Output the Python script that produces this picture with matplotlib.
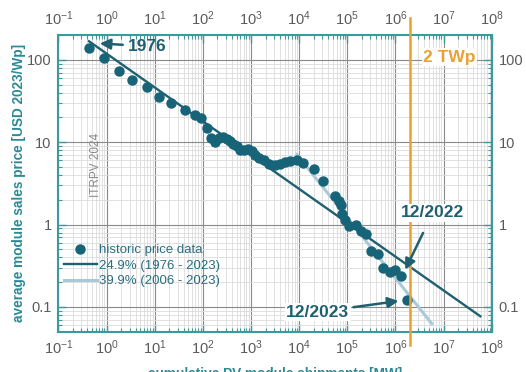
import numpy as np
import matplotlib
matplotlib.use("Agg")
import matplotlib.pyplot as plt
from matplotlib.ticker import LogLocator, FuncFormatter, NullFormatter

plt.rcParams['font.family'] = ['Liberation Sans', 'DejaVu Sans']
plt.rcParams['mathtext.default'] = 'regular'

# historic price data (cumulative shipments in MW, price in USD 2023/Wp)
ship_mw = [0.43, 0.88, 1.84, 3.3, 6.8, 12.1, 21.5, 42.4, 68.8, 91,
           120, 147, 180, 220, 267, 314, 367, 430, 507, 593,
           719, 883, 1038, 1216, 1496, 1870, 2344, 3126, 3980, 5120,
           6500, 8930, 11900, 19900, 31100, 55000, 68000, 73600, 77300, 90400,
           111000, 150700, 194000, 247000, 314000, 425000, 540000, 754000, 991000, 1.3e6,
           1.73e6]
price = [140, 105, 72.7, 56.5, 46.5, 35.2, 30, 24.7, 21.5, 19.5,
         14.7, 11.2, 10, 11.3, 11.7, 11, 10.3, 9.55, 8.9, 8.1,
         7.94, 8.3, 7.8, 6.9, 6.46, 6.1, 5.47, 5.25, 5.47, 5.7,
         5.89, 6.1, 5.56, 4.75, 3.37, 2.24, 1.94, 1.71, 1.35, 1.12,
         0.95, 0.975, 0.83, 0.77, 0.476, 0.44, 0.3, 0.264, 0.277, 0.236,
         0.12]

# learning curves (end points)
lr_all_x = [0.43, 5.8e7]
lr_all_y = [168, 0.077]
lr_new_x = [8950, 5.7e6]
lr_new_y = [7.1, 0.0625]

twp_mark = 2e6  # 2 TWp in MW

c_pts = '#176378'
c_dark = '#1f6070'
c_light = '#abc8d8'
c_orange = '#eaa033'
c_spine = '#3a9a9c'
c_label = '#2c8a95'
c_tick = '#5a5a5a'

fig = plt.figure(figsize=(5.26, 3.72), dpi=100)
ax = fig.add_axes([0.1112, 0.1083, 0.8236, 0.7976])
ax.set_xscale('log')
ax.set_yscale('log')
ax.set_xlim(0.1, 1e8)
ax.set_ylim(0.05, 200)

ax.xaxis.set_major_locator(LogLocator(base=10, numticks=20))
ax.xaxis.set_minor_locator(LogLocator(base=10, subs=np.arange(2, 10), numticks=200))
ax.yaxis.set_major_locator(LogLocator(base=10, numticks=20))
ax.yaxis.set_minor_locator(LogLocator(base=10, subs=np.arange(2, 10), numticks=200))
ax.yaxis.set_major_formatter(FuncFormatter(lambda v, p: '%g' % v))
ax.xaxis.set_minor_formatter(NullFormatter())
ax.yaxis.set_minor_formatter(NullFormatter())

ax.grid(True, which='major', color='#8a8a8a', lw=0.8)
ax.grid(True, which='minor', color='#dcdcdc', lw=0.6)
ax.set_axisbelow(True)

for s in ax.spines.values():
    s.set_color(c_spine)
    s.set_linewidth(1.5)

ax.tick_params(which='both', direction='in', top=True, right=True,
               labeltop=True, labelright=True, color=c_spine,
               labelcolor=c_tick, labelsize=10.5, pad=5)
ax.tick_params(which='major', length=6, width=1)
ax.tick_params(which='minor', length=3, width=0.8)

ax.plot(lr_new_x, lr_new_y, color=c_light, lw=2.2, zorder=3,
        label='39.9% (2006 - 2023)')
ax.plot(lr_all_x, lr_all_y, color=c_dark, lw=1.7, zorder=3,
        label='24.9% (1976 - 2023)')
ax.plot(ship_mw, price, 'o', color=c_pts, ms=6.5, zorder=4,
        label='historic price data')

ax.axvline(twp_mark, ymin=-0.045, ymax=1.057, color=c_orange, lw=1.8,
           clip_on=False, zorder=5)
ax.text(1.31e7, 107, '2 TWp', color=c_orange, fontsize=12.5, fontweight='bold',
        ha='center', va='center', zorder=6,
        bbox=dict(facecolor='white', edgecolor='none', pad=1))

arr = dict(arrowstyle='-|>,head_length=0.5,head_width=0.25', color=c_dark,
           lw=1.8, shrinkA=2, shrinkB=0)
ax.annotate('1976', xy=(0.72, 158), xytext=(7.1, 146), color=c_dark,
            fontsize=12.5, fontweight='bold', ha='center', va='center',
            arrowprops=arr, zorder=6)
ax.annotate('12/2022', xy=(1.6e6, 0.283), xytext=(5.97e6, 1.39), color=c_dark,
            fontsize=12.5, fontweight='bold', ha='center', va='center',
            arrowprops=dict(arr, shrinkA=9), zorder=6,
            bbox=dict(facecolor='white', edgecolor='none', pad=1))
ax.annotate('12/2023', xy=(1.16e6, 0.118), xytext=(24300, 0.0865), color=c_dark,
            fontsize=12.5, fontweight='bold', ha='center', va='center',
            arrowprops=arr, zorder=6,
            bbox=dict(facecolor='white', edgecolor='none', pad=1))

ax.text(0.0866, 0.562, 'ITRPV 2024', transform=ax.transAxes, rotation=90,
        color='#8a8a8a', fontsize=8.5, ha='center', va='center')

h, l = ax.get_legend_handles_labels()
leg = ax.legend(h[::-1], l[::-1], loc='upper left', bbox_to_anchor=(0.012, 0.296),
                frameon=False, fontsize=9.5, borderpad=0, borderaxespad=0,
                labelspacing=0.25, handlelength=2.5, handletextpad=0.15,
                labelcolor='#2b6e80')

fig.text(0.036, 0.509, 'average module sales price [USD 2023/Wp]', rotation=90,
         color=c_label, fontsize=9.8, fontweight='bold', ha='center', va='center')
fig.text(0.523, 0.014, 'cumulative PV module shipments [MW]',
         color=c_label, fontsize=9.8, fontweight='bold', ha='center', va='top')

fig.savefig('out.png', dpi=100)
